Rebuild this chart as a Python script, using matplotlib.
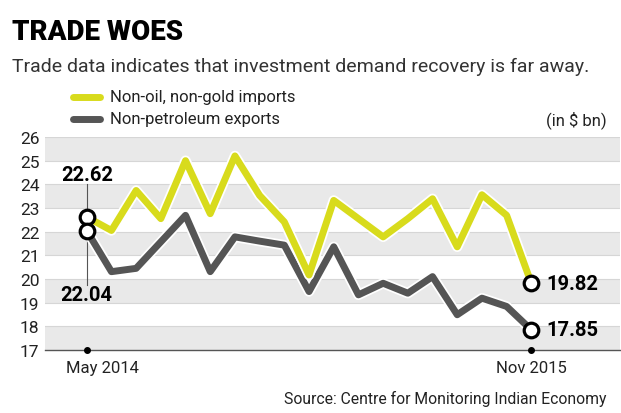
import matplotlib
matplotlib.use("Agg")
import matplotlib.pyplot as plt
import matplotlib.patheffects as pe
from matplotlib.transforms import blended_transform_factory

plt.rcParams['font.family'] = ['Roboto', 'DejaVu Sans']

# monthly values, May 2014 .. Nov 2015 (in $ bn)
months = list(range(19))
imports = [22.62, 22.05, 23.74, 22.55, 25.0, 22.76, 25.2, 23.53, 22.41, 20.17,
           23.32, 22.55, 21.78, 22.55, 23.39, 21.36, 23.56, 22.69, 19.82]
exports = [22.04, 20.31, 20.45, 21.57, 22.69, 20.31, 21.78, 21.6, 21.43, 19.47,
           21.36, 19.33, 19.82, 19.4, 20.1, 18.49, 19.19, 18.84, 17.85]
yticks = list(range(17, 27))
first_label = "May 2014"
last_label = "Nov 2015"

yellow = "#d8db1c"
grey = "#555555"
txt = "#222222"

fig = plt.figure(figsize=(6.21, 4.14), dpi=100)
ax = fig.add_axes([45/621, 1 - 351/414, 575/621, 213/414])

# alternating bands
for lo in range(17, 26, 2):
    ax.axhspan(lo, lo + 1, color="#e9e9e9", zorder=0, lw=0)
for y in yticks[1:]:
    ax.axhline(y, color="#d6d6d6", lw=0.8, zorder=0.5)

outline = [pe.Stroke(linewidth=7.5, foreground="white"), pe.Normal()]
ax.plot(months, imports, color=yellow, lw=5, solid_joinstyle="round",
        path_effects=outline, zorder=3)
ax.plot(months, exports, color=grey, lw=5, solid_joinstyle="round",
        path_effects=outline, zorder=2)

# leader line for first values
ax.plot([0, 0], [19.75, 24.0], color="#555555", lw=0.8, zorder=1)

ends = [(0, imports[0]), (0, exports[0]), (18, imports[-1]), (18, exports[-1])]
for x, y in ends:
    ax.plot(x, y, marker="o", ms=10.5, mfc="white", mec="black", mew=2.3, zorder=5)

vfont = dict(fontsize=14.5, fontweight="bold", color="black")
ax.text(0, 24.0, "%.2f" % imports[0], ha="center", va="bottom", **vfont)
ax.text(0, 19.75, "%.2f" % exports[0], ha="center", va="top", **vfont)
ax.text(18.6, imports[-1], "%.2f" % imports[-1], ha="left", va="center", **vfont)
ax.text(18.6, exports[-1], "%.2f" % exports[-1], ha="left", va="center", **vfont)

ax.set_xlim(-1.69, 21.59)
ax.set_ylim(17, 26)
ax.set_yticks(yticks)
ax.set_yticklabels([str(t) for t in yticks], fontsize=12.5, color=txt)
ax.tick_params(axis="y", length=0, pad=4)
ax.set_xticks([])
for s in ["top", "right", "left"]:
    ax.spines[s].set_visible(False)
ax.spines["bottom"].set_color("#555555")
ax.spines["bottom"].set_linewidth(1)
ax.set_facecolor("white")

# dots on baseline
ax.plot([0, 18], [17, 17], "o", color="black", ms=4, clip_on=False, zorder=6)

tr = blended_transform_factory(ax.transData, fig.transFigure)
ax.text(-0.85, 1 - 369/414, first_label, transform=tr, ha="left", va="center",
        fontsize=12, color=txt)
ax.text(18, 1 - 369/414, last_label, transform=tr, ha="center", va="center",
        fontsize=12, color=txt)

fig.text(12/621, 1 - 32/414, "TRADE WOES", fontsize=20, fontweight="black",
         ha="left", va="center")
fig.text(12/621, 1 - 67/414,
         "Trade data indicates that investment demand recovery is far away.",
         fontsize=14, ha="left", va="center", color="#333333")

# legend
fig.lines.append(plt.Line2D([73/621, 100/621], [1 - 98/414, 1 - 98/414],
                            color=yellow, lw=5, solid_capstyle="round",
                            transform=fig.transFigure))
fig.lines.append(plt.Line2D([73/621, 100/621], [1 - 120/414, 1 - 120/414],
                            color=grey, lw=5, solid_capstyle="round",
                            transform=fig.transFigure))
fig.text(110/621, 1 - 98/414, "Non-oil, non-gold imports", fontsize=12,
         ha="left", va="center", color=txt)
fig.text(110/621, 1 - 120/414, "Non-petroleum exports", fontsize=12,
         ha="left", va="center", color=txt)
fig.text(607/621, 1 - 120/414, "(in $ bn)", fontsize=12,
         ha="right", va="center", color=txt)
fig.text(607/621, 1 - 399/414, "Source: Centre for Monitoring Indian Economy",
         fontsize=11.3, ha="right", va="center", color=txt)

fig.savefig("out.png", dpi=100)
